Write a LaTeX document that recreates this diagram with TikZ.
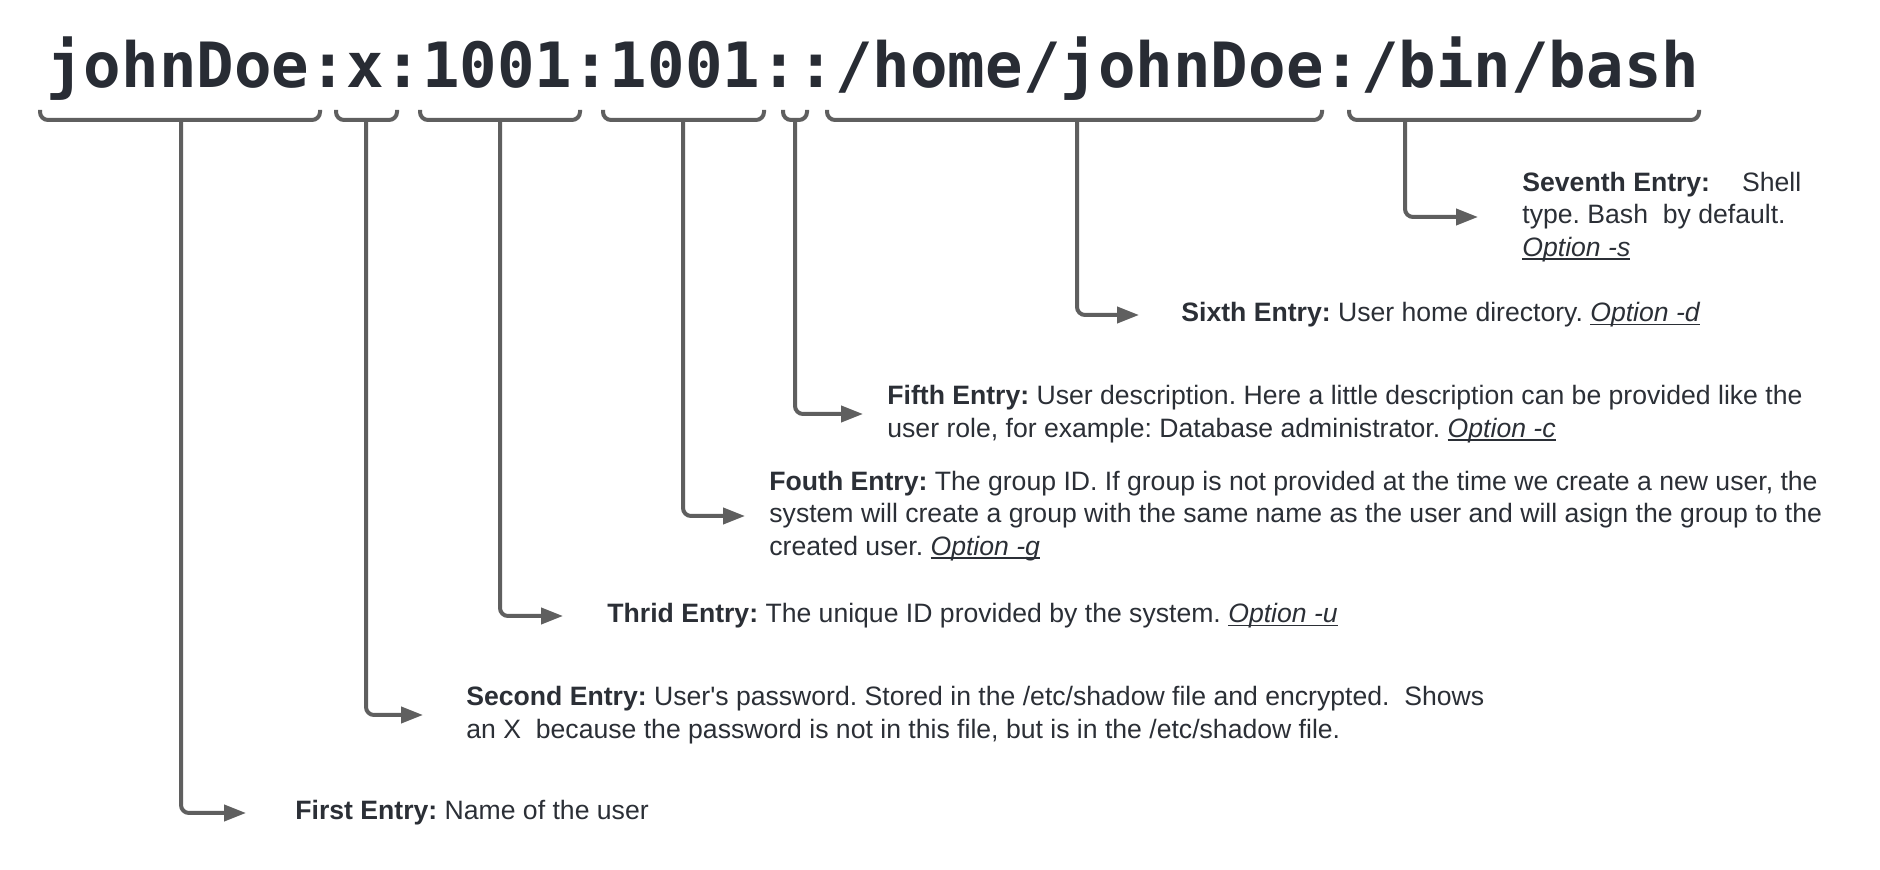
\documentclass[tikz,border=0pt]{standalone}
\usepackage{fontspec}
\setmainfont{Liberation Sans}[Ligatures=TeXOff]
\newfontfamily\cmdfont{DejaVu Sans Mono}
\usetikzlibrary{arrows.meta}
\definecolor{txt}{HTML}{2B2F36}
\definecolor{cmdc}{HTML}{282C34}
\definecolor{ln}{HTML}{5F5F5F}
\tikzset{
  brk/.style={draw=ln, line width=2pt, rounded corners=4pt},
  conn/.style={draw=ln, line width=2pt, rounded corners=4pt, -{Triangle[length=11pt,width=8pt]}},
  lbl/.style={anchor=west, inner sep=0pt, align=left, text=txt, font=\fontsize{13.3}{16.2}\selectfont},
  cmd/.style={anchor=base west, inner sep=0pt, text=cmdc, font=\cmdfont\bfseries\fontsize{31.2}{31.2}\selectfont},
}
\newcommand\opt[1]{\setbox0\hbox{\textit{#1}}\rlap{\rule[-0.13em]{\wd0}{0.065em}}\box0}
\frenchspacing
\begin{document}
\begin{tikzpicture}[x=0.5pt,y=-0.5pt]
\useasboundingbox[fill=white] (0,0) rectangle (1880,870);

\node[cmd] (c) at (46,88) {johnDoe:x:1001:1001::/home/johnDoe:/bin/bash};

% brackets
\draw[brk] (40,110) -- (40,120) -- (320,120) -- (320,110);
\draw[brk] (336,110) -- (336,120) -- (397,120) -- (397,110);
\draw[brk] (420,110) -- (420,120) -- (580,120) -- (580,110);
\draw[brk] (603,110) -- (603,120) -- (764,120) -- (764,110);
\draw[brk] (783,110) -- (783,120) -- (807,120) -- (807,110);
\draw[brk] (827,110) -- (827,120) -- (1322,120) -- (1322,110);
\draw[brk] (1349,110) -- (1349,120) -- (1699,120) -- (1699,110);

\coordinate (s1) at (181,120);
\coordinate (s2) at (366,120);
\coordinate (s3) at (500,120);
\coordinate (s4) at (683,120);
\coordinate (s5) at (795,120);
\coordinate (s6) at (1077,120);
\coordinate (s7) at (1405,120);

% labels
\node[lbl] (l1) at (295,813) {\textbf{First Entry:} Name of the user};
\node[lbl] (l2) at (466,715) {\textbf{Second Entry:} User's password. Stored in the /etc/shadow file and encrypted.\ \ Shows\\an X\ \ because the password is not in this file, but is in the /etc/shadow file.};
\node[lbl] (l3) at (607,616) {\textbf{Thrid Entry:} The unique ID provided by the system. \opt{Option -u}};
\node[lbl] (l4) at (769,516) {\textbf{Fouth Entry:} The group ID. If group is not provided at the time we create a new user, the\\system will create a group with the same name as the user and will asign the group to the\\created user. \opt{Option -g}};
\node[lbl] (l5) at (887,414) {\textbf{Fifth Entry:} User description. Here a little description can be provided like the\\user role, for example: Database administrator. \opt{Option -c}};
\node[lbl] (l6) at (1181,315) {\textbf{Sixth Entry:} User home directory. \opt{Option -d}};
\node[lbl] (l7) at (1522,217) {\textbf{Seventh Entry:}\hspace{1.2em}Shell\\type. Bash\ \ by default.\\\opt{Option -s}};

% connectors
\draw[conn] (s1) |- ([xshift=-24.5pt]l1.west);
\draw[conn] (s2) |- ([xshift=-21.5pt]l2.west);
\draw[conn] (s3) |- ([xshift=-22pt]l3.west);
\draw[conn] (s4) |- ([xshift=-12pt]l4.west);
\draw[conn] (s5) |- ([xshift=-12pt]l5.west);
\draw[conn] (s6) |- ([xshift=-21pt]l6.west);
\draw[conn] (s7) |- ([xshift=-22pt]l7.west);
\end{tikzpicture}
\end{document}
